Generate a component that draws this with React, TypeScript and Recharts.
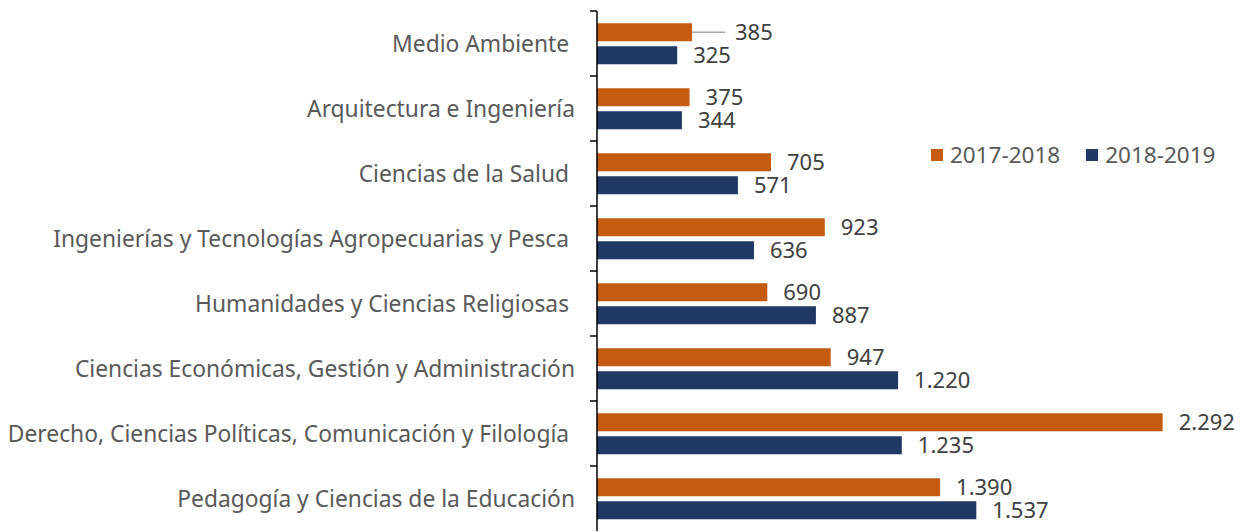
import { BarChart, Bar, XAxis, YAxis, Legend, LabelList } from 'recharts';

// trailing spaces are kept as in the source sheet
const categories = [
  'Medio Ambiente ',
  'Arquitectura e Ingeniería',
  'Ciencias de la Salud ',
  'Ingenierías y Tecnologías Agropecuarias y Pesca ',
  'Humanidades y Ciencias Religiosas ',
  'Ciencias Económicas, Gestión y Administración',
  'Derecho, Ciencias Políticas, Comunicación y Filología ',
  'Pedagogía y Ciencias de la Educación',
];

const values2017 = [385, 375, 705, 923, 690, 947, 2292, 1390];
const values2018 = [325, 344, 571, 636, 887, 1220, 1235, 1537];

const data = categories.map((name, i) => ({
  name,
  a: values2017[i],
  b: values2018[i],
}));

const ORANGE = '#C55A11';
const NAVY = '#203864';
const TEXT = '#595959';
const FONT = '"Noto Sans", "Open Sans", sans-serif';

const CHART_H = 524;
const MARGIN_TOP = 3;
const MARGIN_BOTTOM = 1;
const BAND = (CHART_H - MARGIN_TOP - MARGIN_BOTTOM) / categories.length;

const fmt = (v: number) => String(v).replace(/\B(?=(\d{3})+(?!\d))/g, '.');

// category tick with the tick mark on the band boundary, Excel-style
const CategoryTick = (props: any) => {
  const { x, y, payload } = props;
  return (
    <g>
      <line x1={x - 7} x2={x} y1={y - BAND / 2} y2={y - BAND / 2} stroke="#000" strokeWidth={1.5} />
      <text
        x={x - 22}
        y={y}
        dy={8}
        textAnchor="end"
        fill={TEXT}
        fontSize={22.8}
        fontFamily={FONT}
        style={{ whiteSpace: 'pre' }}
      >
        {payload.value}
      </text>
    </g>
  );
};

const ValueLabel = (props: any) => {
  const { x, y, width, height, value, index, leader } = props;
  const endX = x + width;
  const cy = y + height / 2;
  if (leader && index === 0) {
    return (
      <g>
        <line x1={endX} x2={endX + 33} y1={cy} y2={cy} stroke="#A6A6A6" strokeWidth={1.5} />
        <text x={endX + 43} y={cy} dy={8} fill="#404040" fontSize={22} fontFamily={FONT}>
          {fmt(value)}
        </text>
      </g>
    );
  }
  return (
    <text x={endX + 16} y={cy} dy={8} fill="#404040" fontSize={22} fontFamily={FONT}>
      {fmt(value)}
    </text>
  );
};

const LegendContent = (props: any) => {
  const { payload } = props;
  return (
    <div style={{ display: 'flex', alignItems: 'center', fontFamily: FONT }}>
      {(payload || []).map((item: any) => (
        <div key={item.value} style={{ display: 'flex', alignItems: 'center', marginRight: 26 }}>
          <span style={{ width: 12, height: 12, background: item.color, display: 'inline-block', marginRight: 7 }} />
          <span style={{ color: TEXT, fontSize: 22.5 }}>{item.value}</span>
        </div>
      ))}
    </div>
  );
};

export default function App() {
  return (
    <div style={{ width: 1239, height: CHART_H }}>
      <BarChart
        width={1239}
        height={CHART_H}
        data={data}
        layout="vertical"
        margin={{ top: MARGIN_TOP, right: 33, bottom: MARGIN_BOTTOM, left: 0 }}
        barCategoryGap="19%"
        barGap={5}
      >
        <XAxis type="number" domain={[0, 2500]} hide />
        <YAxis
          type="category"
          dataKey="name"
          width={589}
          tick={<CategoryTick />}
          tickLine={false}
          tickSize={0}
          tickMargin={0}
          axisLine={{ stroke: '#000', strokeWidth: 1.5 }}
          interval={0}
        />
        <Legend
          layout="horizontal"
          verticalAlign="middle"
          align="center"
          content={<LegendContent />}
          wrapperStyle={{ top: 131, left: 923, width: 320 }}
        />
        <Bar dataKey="a" name="2017-2018" fill={ORANGE} isAnimationActive={false}>
          <LabelList dataKey="a" content={<ValueLabel leader />} />
        </Bar>
        <Bar dataKey="b" name="2018-2019" fill={NAVY} isAnimationActive={false}>
          <LabelList dataKey="b" content={<ValueLabel />} />
        </Bar>
      </BarChart>
    </div>
  );
}
